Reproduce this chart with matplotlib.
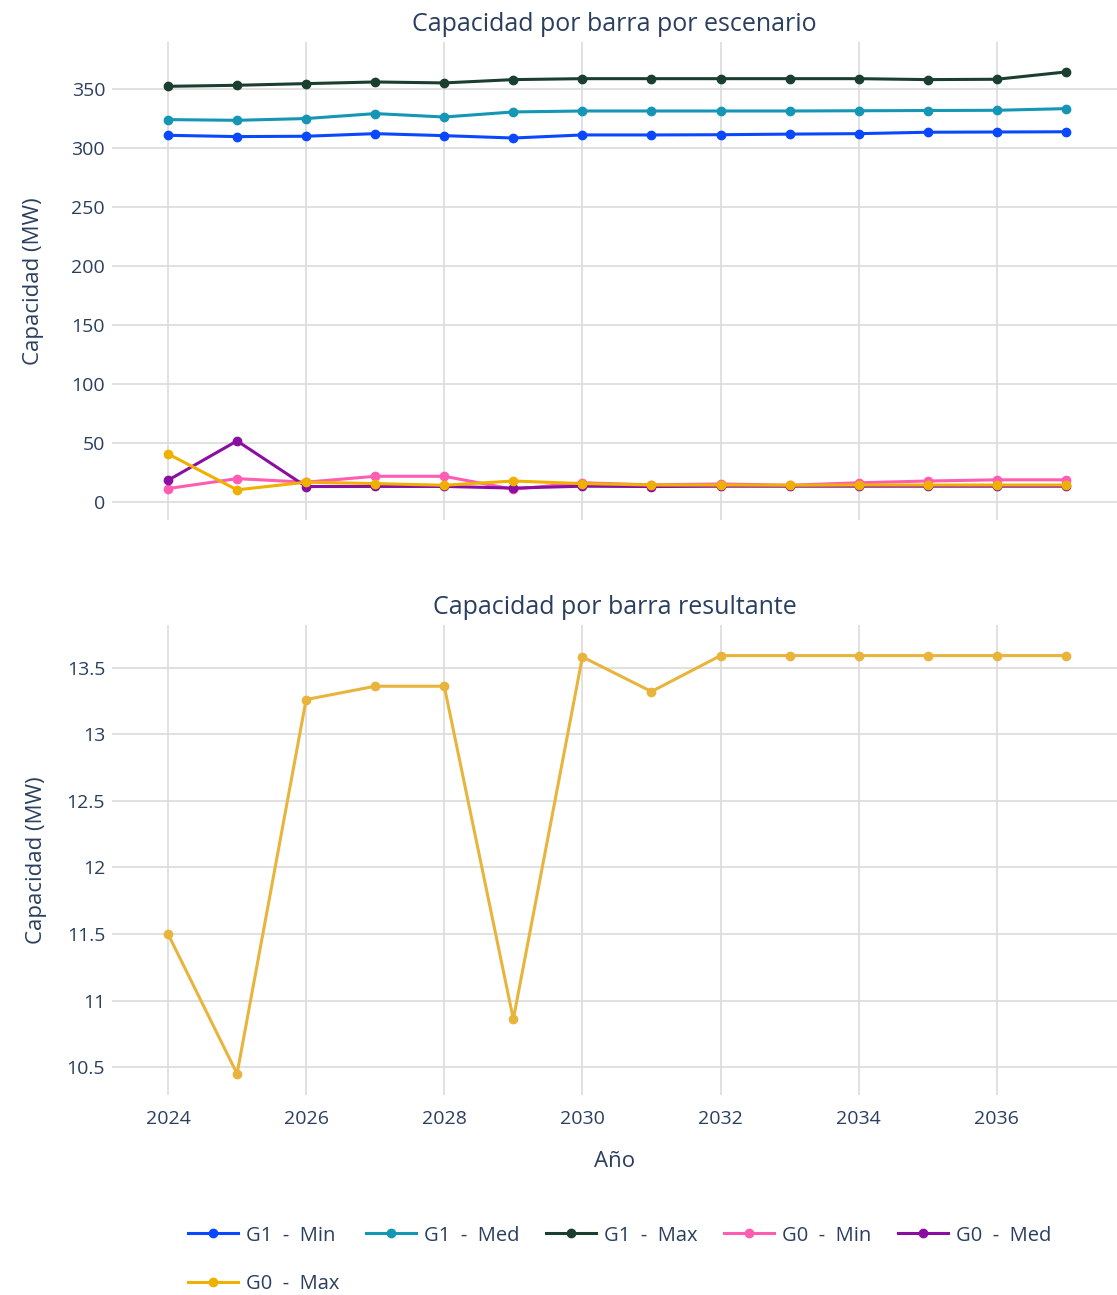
import matplotlib
matplotlib.use("Agg")
import matplotlib.pyplot as plt

plt.rcParams["font.family"] = ["Open Sans", "DejaVu Sans"]

TEXT = "#2a3f5f"
GRID = "#dcdcdc"

years = list(range(2024, 2038))

# escenarios (MW)
g1_min = [311.0, 309.9, 310.2, 312.4, 310.7, 308.7, 311.3, 311.3, 311.5, 312.0, 312.4, 313.6, 313.8, 314.0]
g1_med = [324.3, 323.7, 325.2, 329.4, 326.5, 330.8, 331.6, 331.6, 331.6, 331.6, 331.8, 332.0, 332.2, 333.6]
g1_max = [352.5, 353.4, 354.8, 356.2, 355.4, 358.2, 359.0, 359.0, 359.0, 359.0, 359.0, 358.2, 358.5, 364.7]
g0_min = [11.6, 20.0, 17.0, 22.0, 22.0, 11.0, 16.5, 14.7, 15.5, 14.4, 16.5, 18.0, 19.0, 19.0]
g0_med = [18.6, 52.0, 13.3, 13.4, 13.4, 12.0, 13.6, 13.3, 13.6, 13.6, 13.6, 13.6, 13.6, 13.6]
g0_max = [41.0, 10.5, 17.0, 15.8, 14.4, 18.0, 15.8, 14.6, 14.6, 14.4, 14.6, 14.6, 14.6, 14.6]

# resultante (MW)
resultante = [11.5, 10.45, 13.26, 13.36, 13.36, 10.86, 13.58, 13.32, 13.59, 13.59, 13.59, 13.59, 13.59, 13.59]

series = [
    ("G1  -  Min", g1_min, "#0a48ff"),
    ("G1  -  Med", g1_med, "#1496b4"),
    ("G1  -  Max", g1_max, "#1b3f2e"),
    ("G0  -  Min", g0_min, "#ff5cb4"),
    ("G0  -  Med", g0_med, "#8a0ea0"),
    ("G0  -  Max", g0_max, "#f0b000"),
]


def style_axes(ax):
    ax.set_facecolor("white")
    for s in ax.spines.values():
        s.set_visible(False)
    ax.grid(True, color=GRID, linewidth=1.2)
    ax.set_axisbelow(True)
    ax.tick_params(length=0, colors=TEXT, labelsize=14, pad=5)
    ax.tick_params(axis="x", pad=11)
    ax.set_xlim(2023.19, 2037.74)
    ax.set_xticks(range(2024, 2038, 2))


fig = plt.figure(figsize=(11.17, 12.95), dpi=100)
ax1 = fig.add_axes([0.1003, 0.5985, 0.8997, 0.3690])
ax2 = fig.add_axes([0.1003, 0.1544, 0.8997, 0.3630])

handles = []
for label, vals, color in series:
    h, = ax1.plot(years, vals, color=color, linewidth=2.2, marker="o", markersize=6, label=label)
    handles.append(h)
style_axes(ax1)
ax1.set_ylim(-15, 390)
ax1.set_yticks(range(0, 351, 50))
ax1.tick_params(axis="x", labelbottom=False)
ax1.set_title("Capacidad por barra por escenario", color=TEXT, fontsize=18, pad=8)
ax1.set_ylabel("Capacidad (MW)", color=TEXT, fontsize=16, labelpad=20)

ax2.plot(years, resultante, color="#e8b43c", linewidth=2.2, marker="o", markersize=6)
style_axes(ax2)
ax2.set_ylim(10.29, 13.82)
ax2.set_yticks([10.5, 11, 11.5, 12, 12.5, 13, 13.5])
ax2.set_yticklabels(["10.5", "11", "11.5", "12", "12.5", "13", "13.5"])
ax2.set_title("Capacidad por barra resultante", color=TEXT, fontsize=18, pad=8)
ax2.set_ylabel("Capacidad (MW)", color=TEXT, fontsize=16, labelpad=14)
ax2.set_xlabel("Año", color=TEXT, fontsize=16, labelpad=16)

# plotly-like legend: row-major order in matplotlib's column-major fill
order = [0, 5, 1, 2, 3, 4]
leg = fig.legend([handles[i] for i in order], [series[i][0] for i in order],
                 ncol=5, loc="lower left", bbox_to_anchor=(0.152, -0.013),
                 frameon=False, fontsize=14.5, handlelength=2.5, handletextpad=0.4,
                 columnspacing=1.3, labelspacing=1.4, labelcolor=TEXT)

fig.savefig("out.png", dpi=100, facecolor="white")
